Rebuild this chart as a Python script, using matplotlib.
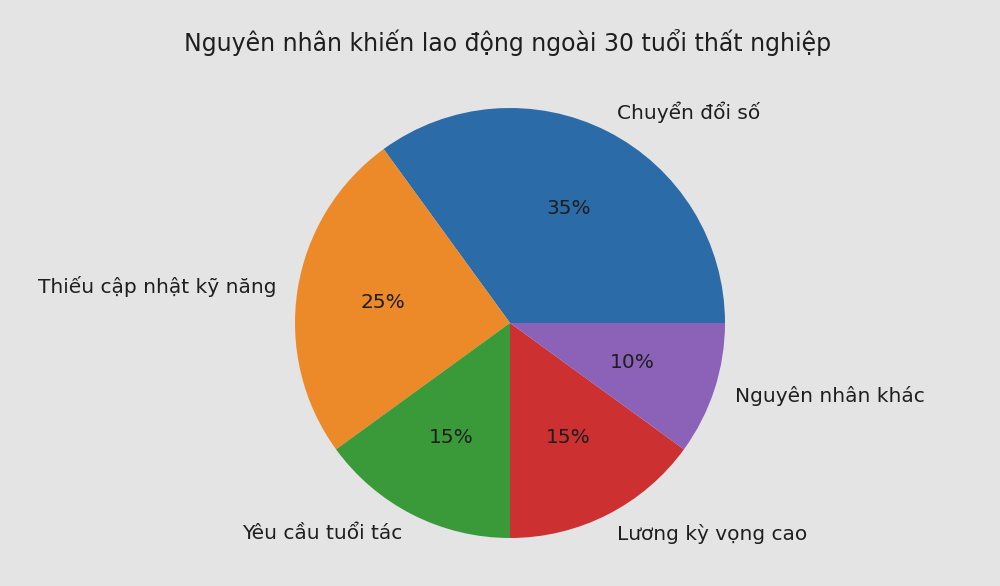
import matplotlib.pyplot as plt

BG_COLOR = "#e4e4e4"
TEXT_COLOR = "#1e1e1e"

reasons = [
    "Chuyển đổi số",
    "Thiếu cập nhật kỹ năng",
    "Yêu cầu tuổi tác",
    "Lương kỳ vọng cao",
    "Nguyên nhân khác",
]
shares = [35, 25, 15, 15, 10]
colors = ["#2b6ca8", "#ec8a2a", "#3a9a3a", "#cc3030", "#8c62b8"]

fig = plt.figure(figsize=(10, 5.86), dpi=100)
fig.set_facecolor(BG_COLOR)

# place the pie so its center/radius match the reference (px -> fractions)
cx, cy, r = 510, 323, 215
ax = fig.add_axes([(cx - r) / 1000, (586 - cy - r) / 586, 2 * r / 1000, 2 * r / 586])
ax.set_facecolor(BG_COLOR)

wedges, texts, autotexts = ax.pie(
    shares,
    labels=reasons,
    colors=colors,
    autopct="%1.0f%%",
    textprops={"fontsize": 14.5, "color": TEXT_COLOR},
)
ax.set_xlim(-1, 1)
ax.set_ylim(-1, 1)
ax.set_aspect("equal")
ax.axis("off")

fig.text(0.508, 1 - 42 / 586, "Nguyên nhân khiến lao động ngoài 30 tuổi thất nghiệp",
         ha="center", va="center", fontsize=17, color=TEXT_COLOR)

fig.savefig("out.png", dpi=100, facecolor=BG_COLOR)
